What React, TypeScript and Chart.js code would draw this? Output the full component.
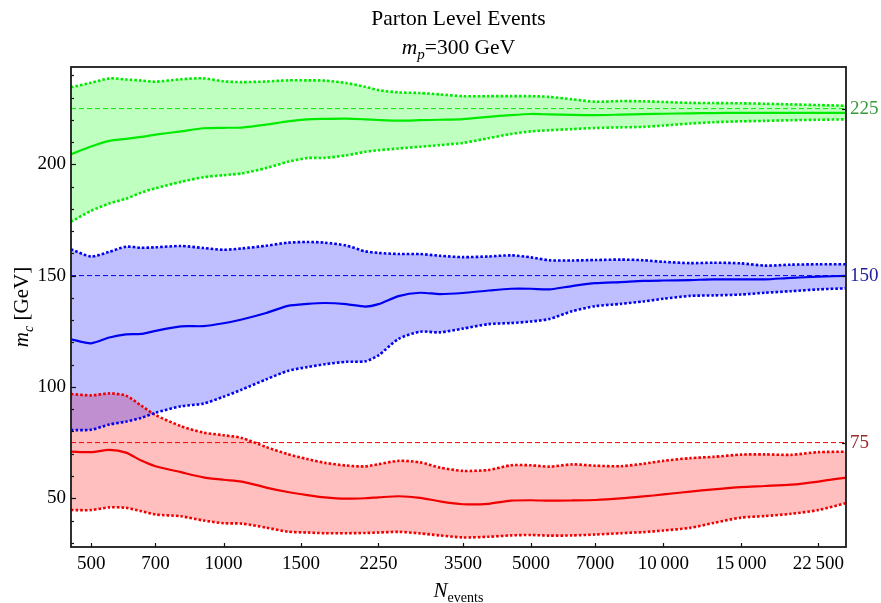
import React, { useEffect, useRef } from 'react';
import { Chart, registerables } from 'chart.js';

Chart.register(...registerables);

const FONT = '"Liberation Serif", "Times New Roman", serif';

const N_EVENTS = [450, 500, 550, 600, 650, 700, 800, 900, 1000, 1100, 1250, 1400, 1550, 1700, 1900, 2100, 2250, 2500, 2800, 3100, 3500, 4000, 4500, 5000, 5500, 6200, 7000, 8000, 9000, 10000, 11500, 13000, 15000, 17000, 19500, 22500, 26000];

const greenUpper = [234.6, 236.6, 238.6, 238.1, 237.6, 237.1, 238.2, 238.6, 237.3, 236.9, 237.2, 237.7, 237.7, 237.6, 236.5, 234.8, 233.3, 232.3, 232.0, 231.4, 230.6, 230.6, 230.6, 230.6, 230.3, 229.2, 228.1, 228.4, 228.3, 228.0, 227.6, 227.5, 227.4, 227.2, 226.9, 226.6, 226.3];
const greenMean = [204.5, 208.0, 210.5, 211.4, 212.3, 213.3, 214.8, 216.2, 216.4, 216.5, 217.8, 219.3, 220.2, 220.4, 220.5, 220.2, 219.9, 219.6, 219.8, 220.0, 220.3, 221.3, 222.1, 222.6, 222.4, 222.2, 222.1, 222.3, 222.5, 222.7, 222.9, 223.0, 223.1, 223.1, 223.1, 223.1, 223.1];
const greenLower = [174.2, 179.1, 182.4, 184.5, 187.3, 189.2, 192.1, 194.2, 195.1, 195.9, 198.3, 201.1, 202.8, 202.9, 204.0, 205.6, 206.3, 207.1, 207.9, 208.6, 209.6, 211.7, 213.6, 214.8, 215.3, 215.8, 216.3, 216.6, 216.8, 217.4, 218.3, 218.9, 219.3, 219.5, 219.8, 220.0, 220.2];

const blueUpper = [161.8, 158.6, 160.7, 163.0, 162.5, 162.7, 163.3, 162.4, 161.6, 162.2, 163.4, 164.8, 165.1, 164.8, 163.5, 160.9, 160.2, 159.7, 159.7, 158.9, 158.3, 158.6, 159.1, 158.2, 156.9, 156.8, 157.0, 157.2, 156.9, 156.2, 155.6, 155.8, 155.5, 154.5, 154.9, 155.1, 155.1];
const blueMean = [121.4, 119.6, 122.2, 123.6, 123.8, 125.2, 127.2, 127.3, 128.6, 130.3, 133.2, 136.4, 137.3, 137.7, 137.2, 136.1, 137.2, 140.8, 142.3, 141.7, 142.2, 143.3, 144.1, 144.1, 143.8, 145.3, 146.6, 147.1, 147.6, 147.8, 148.0, 148.3, 148.3, 148.3, 149.0, 149.5, 149.9];
const blueLower = [80.6, 80.8, 83.1, 84.4, 86.1, 88.4, 91.3, 92.5, 95.6, 98.8, 103.4, 107.2, 108.9, 110.2, 111.3, 111.5, 114.2, 121.6, 124.8, 124.5, 126.2, 128.2, 128.7, 129.4, 130.5, 134.0, 136.3, 137.3, 138.4, 139.6, 140.9, 141.1, 141.5, 142.3, 143.0, 143.8, 144.3];

const redUpper = [96.8, 96.2, 97.1, 96.1, 91.6, 87.4, 82.4, 79.5, 78.3, 77.1, 73.0, 69.8, 67.6, 65.9, 64.7, 64.3, 65.3, 66.8, 66.1, 63.8, 62.3, 62.7, 64.8, 64.8, 64.2, 65.2, 64.6, 64.4, 65.5, 66.8, 68.0, 68.6, 69.6, 69.7, 69.5, 70.7, 70.9];
const redMean = [70.9, 70.7, 71.7, 70.5, 66.9, 64.4, 61.7, 59.4, 58.3, 57.5, 54.8, 52.8, 51.4, 50.4, 49.8, 50.0, 50.4, 50.9, 50.2, 48.6, 47.3, 47.5, 48.9, 49.1, 48.9, 49.0, 49.2, 49.9, 50.8, 51.7, 53.0, 54.0, 55.0, 55.5, 56.1, 57.5, 59.3];
const redLower = [44.7, 44.7, 45.9, 45.7, 44.2, 42.7, 41.9, 40.0, 38.8, 38.6, 36.8, 35.0, 34.6, 34.3, 34.3, 34.4, 34.6, 34.9, 34.2, 33.3, 32.4, 32.7, 33.3, 33.5, 33.2, 33.3, 33.7, 34.3, 34.8, 35.5, 36.7, 38.9, 41.3, 42.0, 43.0, 44.7, 47.8];

const TRUE_MASSES = [225, 150, 75];
const TRUE_LABEL_COLORS = ['#3a9a3a', '#20209a', '#9a2a2a'];

const X_TICKS = [500, 700, 1000, 1500, 2250, 3500, 5000, 7000, 10000, 15000, 22500];
const X_TICK_LABELS = ['500', '700', '1000', '1500', '2250', '3500', '5000', '7000', '10\u2009000', '15\u2009000', '22\u2009500'];
const Y_TICKS = [50, 100, 150, 200];
const Y_MINOR_TICKS = [30, 40, 50, 60, 70, 80, 90, 100, 110, 120, 130, 140, 150, 160, 170, 180, 190, 200, 210, 220, 230, 240];

const X_MIN = 450;
const X_MAX = 26000;
const Y_MIN = 28.1;
const Y_MAX = 243.7;

const TITLE = 'Parton Level Events';

function pts(arr: number[]) {
  return N_EVENTS.map((x, i) => ({ x, y: arr[i] }));
}

function band(upper: number[], mean: number[], lower: number[], trueVal: number, line: string, fill: string) {
  return [
    { data: pts(upper), borderColor: line, backgroundColor: fill, borderWidth: 2.6, borderDash: [2.6, 2], fill: '+1', tension: 0.25 },
    { data: pts(lower), borderColor: line, backgroundColor: fill, borderWidth: 2.6, borderDash: [2.6, 2], fill: false, tension: 0.25 },
    { data: pts(mean), borderColor: line, borderWidth: 2.2, fill: false, tension: 0.25 },
    { data: [{ x: X_MIN, y: trueVal }, { x: X_MAX, y: trueVal }], borderColor: line, borderWidth: 1, borderDash: [5, 3], fill: false },
  ];
}

function drawRich(ctx: CanvasRenderingContext2D, parts: { t: string; italic?: boolean; sub?: boolean }[], cx: number, baseline: number, size: number) {
  const subSize = Math.round(size * 0.68);
  const fontOf = (p: any) => `${p.italic ? 'italic ' : ''}${p.sub ? subSize : size}px ${FONT}`;
  let total = 0;
  const widths = parts.map((p) => {
    ctx.font = fontOf(p);
    const w = ctx.measureText(p.t).width;
    total += w;
    return w;
  });
  let x = cx - total / 2;
  ctx.textAlign = 'left';
  ctx.textBaseline = 'alphabetic';
  parts.forEach((p, i) => {
    ctx.font = fontOf(p);
    ctx.fillText(p.t, x, baseline + (p.sub ? size * 0.25 : 0));
    x += widths[i];
  });
}

const decorPlugin = {
  id: 'decor',
  afterDraw(chart: any) {
    const { ctx, chartArea } = chart;
    const { left, right, top, bottom } = chartArea;
    const xs = chart.scales.x;
    const ys = chart.scales.y;
    ctx.save();
    ctx.strokeStyle = '#111';
    ctx.fillStyle = '#000';
    ctx.lineWidth = 1.2;
    Y_MINOR_TICKS.forEach((v) => {
      const py = Math.round(ys.getPixelForValue(v)) + 0.5;
      const len = v % 50 === 0 ? 5 : 3;
      ctx.beginPath();
      ctx.moveTo(left, py);
      ctx.lineTo(left + len, py);
      ctx.stroke();
    });
    X_TICKS.forEach((v) => {
      const px = Math.round(xs.getPixelForValue(v)) + 0.5;
      ctx.beginPath();
      ctx.moveTo(px, bottom);
      ctx.lineTo(px, bottom - 4);
      ctx.stroke();
    });
    TRUE_MASSES.forEach((v) => {
      const py = Math.round(ys.getPixelForValue(v)) + 0.5;
      ctx.beginPath();
      ctx.moveTo(right, py);
      ctx.lineTo(right - 4, py);
      ctx.stroke();
    });
    ctx.lineWidth = 1.8;
    ctx.strokeStyle = '#1a1a1a';
    ctx.strokeRect(left, top, right - left, bottom - top);

    ctx.fillStyle = '#000';
    const cx = (left + right) / 2;
    ctx.font = `21.5px ${FONT}`;
    ctx.textAlign = 'center';
    ctx.textBaseline = 'alphabetic';
    ctx.fillText(TITLE, cx, 25);
    drawRich(ctx, [{ t: 'm', italic: true }, { t: 'p', italic: true, sub: true }, { t: '=300 GeV' }], cx, 54, 21.5);

    drawRich(ctx, [{ t: 'N', italic: true }, { t: 'events', sub: true }], cx, 597, 21);

    ctx.save();
    ctx.translate(28, (top + bottom) / 2);
    ctx.rotate(-Math.PI / 2);
    drawRich(ctx, [{ t: 'm', italic: true }, { t: 'c', italic: true, sub: true }, { t: ' [GeV]' }], 0, 0, 21);
    ctx.restore();
    ctx.restore();
  },
};

export default function App() {
  const ref = useRef<HTMLCanvasElement>(null);
  useEffect(() => {
    document.body.style.margin = '0';
    const canvas = ref.current;
    if (!canvas) return;
    const datasets = [
      ...band(greenUpper, greenMean, greenLower, TRUE_MASSES[0], 'rgb(0,235,0)', 'rgba(0,255,0,0.25)'),
      ...band(blueUpper, blueMean, blueLower, TRUE_MASSES[1], 'rgb(0,0,240)', 'rgba(0,0,255,0.25)'),
      ...band(redUpper, redMean, redLower, TRUE_MASSES[2], 'rgb(240,0,0)', 'rgba(255,0,0,0.25)'),
    ].map((d: any) => ({ ...d, pointRadius: 0, pointHoverRadius: 0, borderCapStyle: 'butt' }));

    const chart = new Chart(canvas, {
      type: 'line',
      data: { datasets } as any,
      plugins: [decorPlugin],
      options: {
        animation: false,
        responsive: true,
        maintainAspectRatio: false,
        events: [],
        layout: { padding: { top: 67, left: 0, right: 0, bottom: 0 } },
        plugins: {
          legend: { display: false },
          tooltip: { enabled: false },
          title: { display: false },
          filler: { drawTime: 'beforeDatasetsDraw', propagate: false },
        } as any,
        scales: {
          x: {
            type: 'logarithmic',
            min: X_MIN,
            max: X_MAX,
            grid: { display: false, drawTicks: false },
            border: { display: false },
            afterBuildTicks: (scale: any) => {
              scale.ticks = X_TICKS.map((v) => ({ value: v }));
            },
            afterFit: (scale: any) => {
              scale.height = 56;
            },
            ticks: {
              autoSkip: false,
              maxRotation: 0,
              padding: 6,
              color: '#000',
              font: { family: FONT, size: 19 },
              callback: (_v: any, i: number) => X_TICK_LABELS[i],
            },
          },
          y: {
            type: 'linear',
            position: 'left',
            min: Y_MIN,
            max: Y_MAX,
            grid: { display: false, drawTicks: false },
            border: { display: false },
            afterBuildTicks: (scale: any) => {
              scale.ticks = Y_TICKS.map((v) => ({ value: v }));
            },
            afterFit: (scale: any) => {
              scale.width = 71;
            },
            ticks: {
              padding: 5,
              color: '#000',
              font: { family: FONT, size: 19 },
              callback: (v: any) => String(v),
            },
          },
          y2: {
            type: 'linear',
            position: 'right',
            min: Y_MIN,
            max: Y_MAX,
            grid: { display: false, drawTicks: false },
            border: { display: false },
            afterBuildTicks: (scale: any) => {
              scale.ticks = TRUE_MASSES.map((v) => ({ value: v }));
            },
            afterFit: (scale: any) => {
              scale.width = 35;
            },
            ticks: {
              padding: 4,
              font: { family: FONT, size: 19 },
              color: (c: any) => TRUE_LABEL_COLORS[TRUE_MASSES.indexOf(c.tick?.value)] || '#000',
              callback: (v: any) => String(v),
            },
          },
        } as any,
      },
    });
    return () => chart.destroy();
  }, []);
  return (
    <div style={{ position: 'fixed', left: 0, top: 0, width: 881, height: 603, background: '#fff' }}>
      <canvas ref={ref} />
    </div>
  );
}
